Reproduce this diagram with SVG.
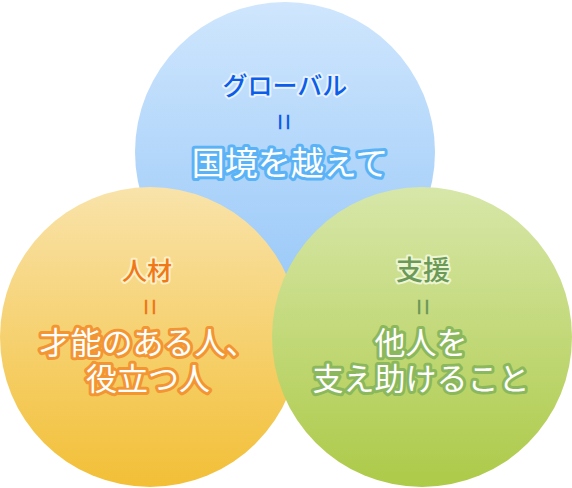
<svg xmlns="http://www.w3.org/2000/svg" width="572" height="488" viewBox="0 0 572 488">
<defs>
<linearGradient id="gBlue" x1="0" y1="0" x2="0" y2="1">
<stop offset="0" stop-color="#cfe6fd"/>
<stop offset="1" stop-color="#98c8f8"/>
</linearGradient>
<linearGradient id="gOrange" x1="0" y1="0" x2="0" y2="1">
<stop offset="0" stop-color="#f9e3aa"/>
<stop offset="1" stop-color="#f2bf36"/>
</linearGradient>
<linearGradient id="gGreen" x1="0" y1="0" x2="0" y2="1">
<stop offset="0" stop-color="#d7e7a9"/>
<stop offset="1" stop-color="#adca48"/>
</linearGradient>
</defs>
<style>
text{font-family:"Noto Sans CJK JP","Liberation Sans",sans-serif;text-anchor:middle;paint-order:stroke;stroke-linejoin:round}
.eq{font-family:"Liberation Sans",sans-serif;font-size:30px;dominant-baseline:central}
.small{font-size:25px;font-weight:500;stroke-width:4px}
.big{font-size:31px;fill:#ffffff;stroke-width:6px}
.blueS{fill:#0c5de8;stroke:#e6f2ff}
.blueB{stroke:#5ab3f7}
.blueE{fill:#0c5de8}
.orS{fill:#f07818;stroke:#fdf0c6}
.orB{stroke:#f39532}
.orE{fill:#f07818}
.grS{fill:#6b9a58;stroke:#eef5d2}
.grB{stroke:#8bb85c}
.grE{fill:#6b9a58}
</style>
<g id="node-global">
<circle cx="285" cy="152" r="150" fill="url(#gBlue)"/>
<text class="small blueS" x="285" y="95">グローバル</text>
<text class="eq blueE" transform="translate(284,122) rotate(90)">=</text>
<text class="big blueB" x="290" y="175" style="font-size:33px">国境を越えて</text>
</g>
<g id="node-jinzai">
<circle cx="150" cy="337" r="150" fill="url(#gOrange)"/>
<text class="small orS" x="147" y="280">人材</text>
<text class="eq orE" transform="translate(150,307) rotate(90)">=</text>
<text class="big orB" x="148" y="354">才能のある人、</text>
<text class="big orB" x="148" y="390">役立つ人</text>
</g>
<g id="node-shien">
<circle cx="422" cy="337" r="150" fill="url(#gGreen)"/>
<text class="small grS" x="423" y="280" style="font-size:27px">支援</text>
<text class="eq grE" transform="translate(423,307) rotate(90)">=</text>
<text class="big grB" x="421" y="354">他人を</text>
<text class="big grB" x="421" y="390">支え助けること</text>
</g>
<g id="connectors"></g>
</svg>
